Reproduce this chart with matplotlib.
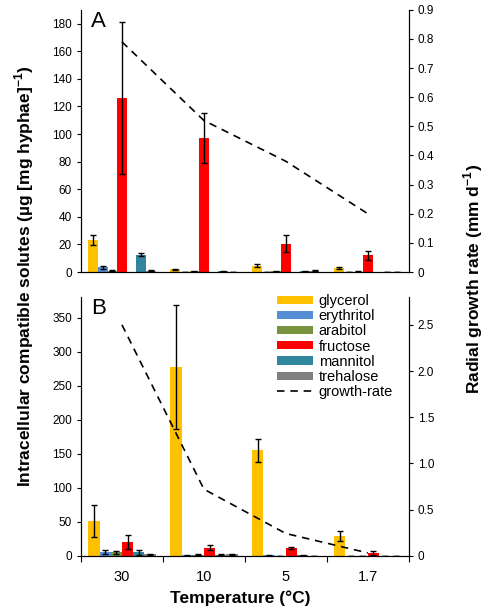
import numpy as np
import matplotlib
matplotlib.use("Agg")
import matplotlib.pyplot as plt
from matplotlib.ticker import FuncFormatter

plt.rcParams['font.family'] = ['Liberation Sans', 'DejaVu Sans']

temps = ['30', '10', '5', '1.7']
solutes = ['glycerol', 'erythritol', 'arabitol', 'fructose', 'mannitol', 'trehalose']
colors = ['#FFC000', '#558ED5', '#77933C', '#FF0000', '#31859C', '#7F7F7F']

# panel A: values and errors per solute (rows) at each temperature (cols)
a_vals = [[23, 2, 4.5, 3],
          [3.5, 0, 0, 0],
          [1, 0.5, 0.5, 0.3],
          [126, 97, 20.5, 12],
          [12.5, 0.5, 0.5, 0],
          [1, 0, 1, 0]]
a_err = [[3.5, 0.5, 1.2, 0.8],
         [1, 0, 0, 0],
         [0.3, 0.2, 0.2, 0.1],
         [55, 18, 6, 3.5],
         [1.2, 0.2, 0.2, 0],
         [0.3, 0, 0.3, 0]]
a_growth = [0.79, 0.52, 0.38, 0.2]

# panel B
b_vals = [[51, 277, 155, 29],
          [5, 0.5, 0.5, 0],
          [5, 1.5, 0, 0],
          [20, 12, 11, 4],
          [5, 1.5, 0.5, 0],
          [2, 2, 0, 0]]
b_err = [[24, 91, 17, 7],
         [3, 0.3, 0.3, 0],
         [2, 0.8, 0, 0],
         [10, 4, 1.5, 3],
         [4, 0.8, 0.3, 0],
         [1, 1, 0, 0]]
b_growth = [2.5, 0.72, 0.24, 0.03]


def fmt0(dec):
    def f(v, pos):
        if abs(v) < 1e-9:
            return '0'
        return ('%.' + str(dec) + 'f') % v
    return FuncFormatter(f)


def panel(ax, vals, err, growth, slots, nslots, ylim, yticks, rlim, rticks, rdec, letter, show_x):
    x = np.arange(len(temps))
    group = 0.82
    w = group / nslots
    for i, name in enumerate(solutes):
        pos = x - group / 2 + w * (slots[i] + 0.5)
        ax.bar(pos, vals[i], w, color=colors[i], label=name, zorder=2,
               yerr=err[i], error_kw=dict(ecolor='black', elinewidth=1, capsize=2.5, capthick=1))
    ax.set_xlim(-0.5, len(temps) - 0.5)
    ax.set_ylim(*ylim)
    ax.set_yticks(yticks)
    ax.spines['top'].set_visible(False)
    ax.tick_params(axis='y', labelsize=8.5, length=3, direction='out')
    ax.yaxis.set_major_formatter(fmt0(0))
    if show_x:
        ax.set_xticks(np.arange(-0.5, len(temps), 1.0))
        ax.set_xticklabels([])
        ax.set_xticks(x, minor=True)
        ax.set_xticklabels(temps, minor=True, fontsize=10.5)
        ax.tick_params(axis='x', which='major', length=4.5)
        ax.tick_params(axis='x', which='minor', length=0, pad=10)
    else:
        ax.set_xticks([])
    ax.text(0.03, 0.995, letter, transform=ax.transAxes, fontsize=16, va='top', ha='left')

    ax2 = ax.twinx()
    ax2.plot(x, growth, color='black', ls=(0, (4.5, 3.5)), lw=1.2, label='growth-rate')
    ax2.set_ylim(*rlim)
    ax2.set_yticks(rticks)
    ax2.yaxis.set_major_formatter(fmt0(rdec))
    ax2.tick_params(axis='y', labelsize=8.5, length=3, direction='out')
    ax2.spines['top'].set_visible(False)
    return ax2


fig = plt.figure(figsize=(4.9, 6.14), dpi=100)
axA = fig.add_axes([0.1653, 0.557, 0.669, 0.427])
axB = fig.add_axes([0.1653, 0.095, 0.669, 0.421])

panel(axA, a_vals, a_err, a_growth, [0, 1, 2, 3, 5, 6], 7, (0, 190), range(0, 181, 20),
      (0, 0.9), np.arange(0, 0.91, 0.1), 1, 'A', False)
axB2 = panel(axB, b_vals, b_err, b_growth, [0, 1, 2, 3, 4, 5], 6, (0, 380), range(0, 351, 50),
             (0, 2.8), np.arange(0, 2.51, 0.5), 1, 'B', True)

h1, l1 = axB.get_legend_handles_labels()
h2, l2 = axB2.get_legend_handles_labels()
axB2.legend(h1 + h2, l1 + l2, loc='upper left', bbox_to_anchor=(0.598, 1.012), frameon=False,
            borderpad=0, borderaxespad=0, fontsize=10.5, handlelength=2.5, handleheight=0.48,
            labelspacing=0.08, handletextpad=0.35)

fig.text(0.049, 0.55, 'Intracellular compatible solutes (\u00b5g [mg hyphae]$^{\\mathregular{-1}}$)',
         rotation=90, ha='center', va='center', fontsize=12.5, fontweight='bold')
fig.text(0.965, 0.545, 'Radial growth rate (mm d$^{\\mathregular{-1}}$)',
         rotation=90, ha='center', va='center', fontsize=12.5, fontweight='bold')
fig.text(0.49, 0.026, 'Temperature (\u00b0C)', ha='center', va='center', fontsize=12.5, fontweight='bold')

fig.savefig('out.png', dpi=100)
